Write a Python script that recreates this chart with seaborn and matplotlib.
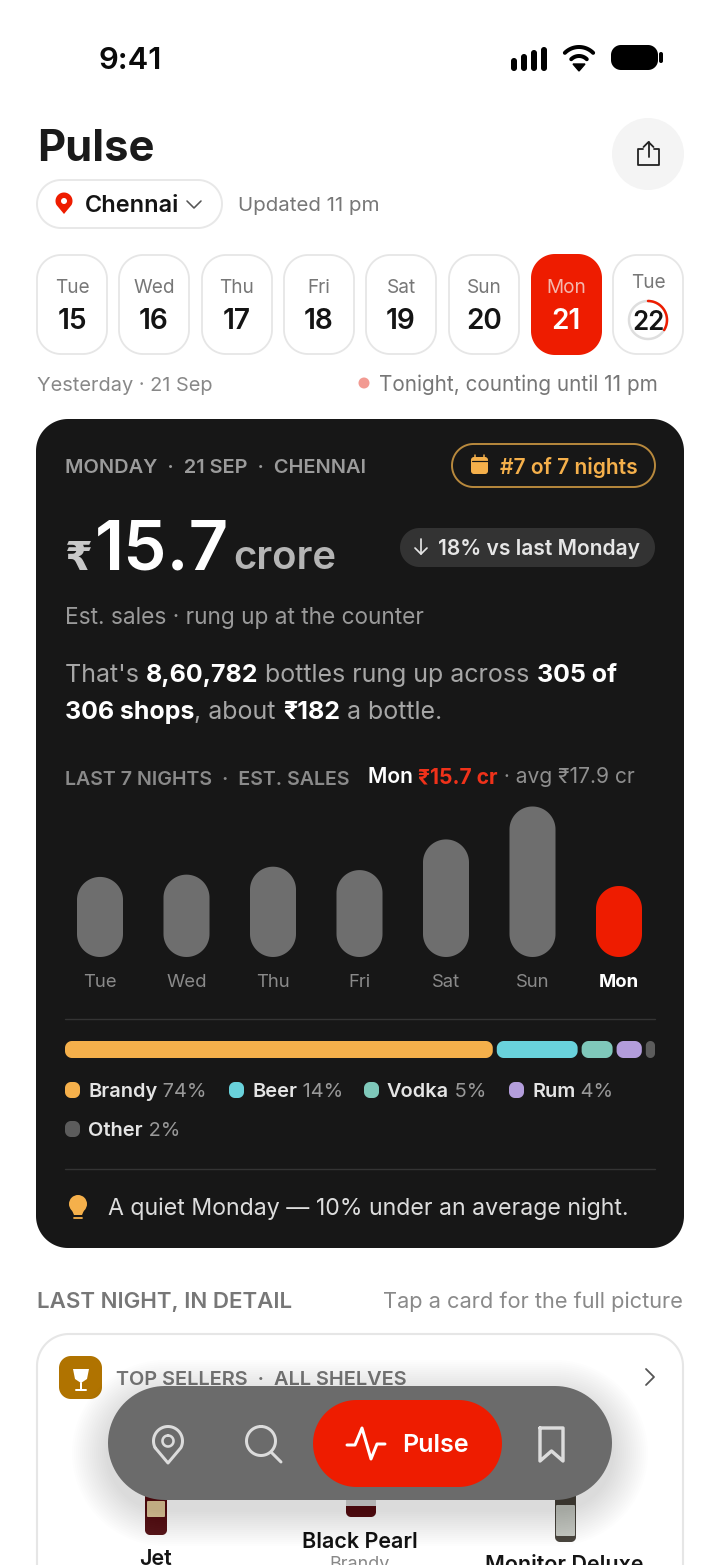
"""Pulse nightly sales screen, drawn in pixel coordinates with seaborn bars."""

import matplotlib

matplotlib.use("Agg")
import matplotlib.pyplot as plt
import numpy as np
import pandas as pd
import seaborn as sns
from matplotlib.patches import Circle, Polygon

W, H = 720, 1565
RED = "#EE1C00"
INK = "#161616"
CARD = "#171717"
AMBER = "#F5B04B"

NIGHT_DAYS = ["Tue", "Wed", "Thu", "Fri", "Sat", "Sun", "Mon"]
NIGHT_SALES_CR = [16.5, 16.7, 17.4, 17.1, 19.8, 22.7, 15.7]

CAL_DAYS = ["Tue", "Wed", "Thu", "Fri", "Sat", "Sun", "Mon", "Tue"]
CAL_DATES = ["15", "16", "17", "18", "19", "20", "21", "22"]

SHARE_NAMES = ["Brandy", "Beer", "Vodka", "Rum", "Other"]
SHARE_LABELS = ["74%", "14%", "5%", "4%", "2%"]
SHARE_VALUES = [74.6, 14.1, 5.4, 4.4, 1.6]
SHARE_COLORS = ["#F5B04B", "#69D2DC", "#7FC8BA", "#B39DDB", "#5C5C5C"]

sns.set_theme(style="white")
plt.rcParams["font.family"] = ["Inter", "DejaVu Sans"]

fig = plt.figure(figsize=(W / 100, H / 100), dpi=100, facecolor="white")
ui = fig.add_axes([0, 0, 1, 1], zorder=1)
ui.set_xlim(0, W)
ui.set_ylim(H, 0)
ui.axis("off")
renderer = fig.canvas.get_renderer()


def text(x, y, s, px, color=INK, weight="normal", ha="left", z=5, family=None):
    kw = {"family": family} if family else {}
    return ui.text(x, y, s, fontsize=px * 0.72, color=color, fontweight=weight,
                   ha=ha, va="baseline", zorder=z, **kw)


def advance(s, px, weight):
    probe = ui.text(0, 0, s + "|", fontsize=px * 0.72, fontweight=weight)
    bar = ui.text(0, 0, "|", fontsize=px * 0.72, fontweight=weight)
    width = probe.get_window_extent(renderer).width - bar.get_window_extent(renderer).width
    probe.remove()
    bar.remove()
    return width


def runs(x, y, parts, px, z=5):
    for s, color, weight in parts:
        text(x, y, s, px, color, weight, z=z)
        x += advance(s, px, weight)


def pill(x0, y0, x1, y1, r=None, fc="white", ec="none", lw=0, z=2, alpha=None):
    # circular corners, FancyBboxPatch's bezier ones come out too square
    r = min(r if r is not None else 1e9, (x1 - x0) / 2, (y1 - y0) / 2)
    pts = []
    corners = [(x1 - r, y0 + r, 0), (x1 - r, y1 - r, 90), (x0 + r, y1 - r, 180), (x0 + r, y0 + r, 270)]
    for cx, cy, start in corners:
        a = np.radians(np.linspace(start, start + 90, 24))
        pts.append(np.c_[cx + r * np.sin(a), cy - r * np.cos(a)])
    ui.add_patch(Polygon(np.vstack(pts), closed=True, fc=fc, ec=ec, lw=lw, zorder=z, alpha=alpha))


def line(xs, ys, color, px=2, z=6):
    ui.plot(xs, ys, color=color, lw=px * 0.72, solid_capstyle="round",
            solid_joinstyle="round", zorder=z)


def arc(cx, cy, r, a0, a1, color, px=2, z=6):
    a = np.radians(np.linspace(a0, a1, 60))
    line(cx + r * np.sin(a), cy - r * np.cos(a), color, px, z)


def pin_outline(cx, cy, r, tip):
    a = np.radians(np.linspace(-118, 118, 50))
    xs = np.r_[cx + r * np.sin(a), cx]
    ys = np.r_[cy - r * np.cos(a), cy + tip]
    return np.c_[xs, ys]


def bars_to_pills(ax, colors, radius=None, z=4):
    # bars start from zero below the visible scale, so cut them at the axes floor
    floor = ax.get_window_extent(renderer).y0
    for patch, color in zip(list(ax.patches), colors):
        box = patch.get_window_extent(renderer)
        pill(box.x0, H - box.y1, box.x1, H - max(box.y0, floor), radius, fc=color, z=z)
        patch.set_visible(False)


# status bar
text(99, 69, "9:41", 31, "#0A0A0A", "semibold")
for i, top in enumerate([58, 54, 50, 47]):
    pill(511 + i * 10, top, 517 + i * 10, 71, 3, fc="#000000", z=6)
for r in [11, 20]:
    arc(579, 67, r, -45, 45, "#000000", 4)
ui.add_patch(Polygon([(573, 64), (585, 64), (579, 71)], fc="#000000", ec="#000000", lw=1, zorder=6))
pill(611, 45, 658, 70, 10, fc="#000000", z=6)
pill(659, 52, 663, 63, 2, fc="#000000", z=6)

# header
text(37, 161, "Pulse", 43.5, "#1A1A1A", "bold")
ui.add_patch(Circle((648, 154), 36, fc="#F4F4F4", ec="none", zorder=2))
line([643, 638, 638, 659, 659, 654], [149, 149, 165, 165, 149, 149], "#222222", 1.8)
line([648.5, 648.5], [157, 142], "#222222", 1.8)
line([643.5, 648.5, 653.5], [147, 142, 147], "#222222", 1.8)

pill(37, 180, 222, 228, fc="white", ec="#E8E8E8", lw=1.4)
ui.add_patch(Polygon(pin_outline(64, 201, 8.5, 13), fc=RED, ec="none", zorder=6))
ui.add_patch(Circle((64, 201), 3, fc="white", ec="none", zorder=7))
text(85, 212, "Chennai", 23.5, "#141414", "semibold")
line([187, 194, 201], [201, 208, 201], "#555555", 1.6)
text(238, 211, "Updated 11 pm", 20.5, "#777777")

# date strip
for i, (day, date, x0) in enumerate(zip(CAL_DAYS, CAL_DATES, [37, 119, 202, 284, 366, 449, 531, 613])):
    selected = day == "Mon"
    if selected:
        pill(x0, 254, x0 + 71, 355, 24, fc=RED)
    else:
        pill(x0, 255, x0 + 70, 354, 24, fc="white", ec="#E6E6E6", lw=1.3)
    cx = x0 + 35
    if i == 7:
        text(cx, 288, day, 19, "#777777", ha="center")
        arc(cx, 320, 19, 0, 360, "#DEDEDE", 2.5)
        arc(cx, 320, 19, 0, 122, RED, 2.5, z=7)
        text(cx, 330, date, 26, "#141414", "semibold", ha="center")
    else:
        text(cx, 293, day, 19, "#F3B7AE" if selected else "#777777", ha="center")
        text(cx, 329, date, 28, "white" if selected else "#141414", "semibold", ha="center")

text(37, 391, "Yesterday · 21 Sep", 20, "#888888")
ui.add_patch(Circle((364, 383), 5.5, fc="#F29A92", ec="none", zorder=5))
text(379, 391, "Tonight, counting until 11 pm", 20.7, "#777777")

# dark summary card
pill(36, 419, 684, 1248, 32, fc=CARD, z=1)
text(65, 473, "MONDAY  ·  21 SEP  ·  CHENNAI", 20, "#9B9B9B", "semibold")
pill(452, 444, 655, 487, fc="none", ec="#B8893D", lw=1.4)
pill(471, 457, 488, 474, 3, fc=AMBER, z=5)
line([471.5, 487.5], [461, 461], CARD, 1.2)
line([475, 475], [455, 458], AMBER, 1.5)
line([484, 484], [455, 458], AMBER, 1.5)
text(500, 474, "#7 of 7 nights", 21, AMBER, "semibold")

text(65, 570, "₹", 40, "#C9C9C9", "bold", family="DejaVu Sans")
text(95, 569, "15.7", 69, "white", "semibold")
text(233, 569, "crore", 40, "#B5B5B5", "semibold")
pill(400, 528, 655, 567, fc="#333333")
line([421, 421], [539, 554], "#E6E6E6", 1.7)
line([415, 421, 427], [548, 554, 548], "#E6E6E6", 1.7)
text(438, 555, "18% vs last Monday", 21, "#E6E6E6", "semibold")

text(65, 624, "Est. sales · rung up at the counter", 22.7, "#9A9A9A")
GREY_COPY = "#A6A6A6"
runs(65, 682, [("That's ", GREY_COPY, "normal"), ("8,60,782", "white", "bold"),
               (" bottles rung up across ", GREY_COPY, "normal"), ("305 of", "white", "bold")], 25)
runs(65, 719, [("306 shops", "white", "bold"), (", about ", GREY_COPY, "normal"),
               ("₹182", "white", "bold"), (" a bottle.", GREY_COPY, "normal")], 25)

text(65, 785, "LAST 7 NIGHTS  ·  EST. SALES", 19.6, "#8A8A8A", "semibold")
runs(368, 783, [("Mon ", "white", "semibold"), ("₹15.7 cr", "#F0321A", "bold"),
                (" · avg ₹17.9 cr", "#8F8F8F", "normal")], 21)

# nightly bars: axes span set so one category is 86.5 px, floor of the scale at y=957
bar_ax = fig.add_axes([56.75 / W, 1 - 957 / H, 605.5 / W, 157 / H], zorder=2)
bar_ax.patch.set_alpha(0)
nights = pd.DataFrame({"day": NIGHT_DAYS, "sales": NIGHT_SALES_CR})
bar_colors = ["#6E6E6E"] * 6 + [RED]
sns.barplot(data=nights, x="day", y="sales", hue="day", palette=bar_colors, legend=False,
            width=0.532, saturation=1, ax=bar_ax)
bar_ax.set_xlim(-0.5, 6.5)
bar_ax.set_ylim(9.45, 23.27)
bar_ax.set(xlabel="", ylabel="", yticks=[])
sns.despine(ax=bar_ax, left=True, bottom=True)
bar_ax.tick_params(axis="x", length=0, pad=12, labelsize=18.5 * 0.72, labelcolor="#8A8A8A")
bar_ax.get_xticklabels()[-1].set_color("white")
bar_ax.get_xticklabels()[-1].set_fontweight("bold")
bars_to_pills(bar_ax, bar_colors)

line([65, 655], [1018.5, 1018.5], "#343434", 1.4, z=3)
line([65, 655], [1168.5, 1168.5], "#343434", 1.4, z=3)

# category share strip
share_ax = fig.add_axes([65 / W, 1 - 1058 / H, 590 / W, 17 / H], zorder=2)
share_ax.axis("off")
left = 0.0
gap = 100 * 4 / 590
scale = (100 - 4 * gap) / sum(SHARE_VALUES)
for value, color in zip(SHARE_VALUES, SHARE_COLORS):
    share_ax.barh(0, value * scale, left=left, height=1, color=color)
    left += value * scale + gap
share_ax.set_xlim(0, 100)
share_ax.set_ylim(-0.5, 0.5)
bars_to_pills(share_ax, SHARE_COLORS, radius=7)

legend_at = [(65, 1090), (229, 1090), (364, 1090), (509, 1090), (65, 1129)]
for name, label, color, (lx, ly) in zip(SHARE_NAMES, SHARE_LABELS, SHARE_COLORS, legend_at):
    pill(lx, ly - 8, lx + 15, ly + 8, 6, fc=color, z=4)
    runs(lx + 23, ly + 7, [(name, "#E4E4E4", "semibold"), (" " + label, "#999999", "normal")], 20)

ui.add_patch(Circle((78, 1204), 9, fc=AMBER, ec="none", zorder=5))
ui.add_patch(Polygon([(71, 1208), (85, 1208), (82, 1215), (74, 1215)], fc=AMBER, ec="none", zorder=5))
line([74, 82], [1218, 1218], AMBER, 1.8)
text(108, 1215, "A quiet Monday — 10% under an average night.", 23.1, "#DDDDDD")

# lower section
text(37, 1308, "LAST NIGHT, IN DETAIL", 22.3, "#777777", "semibold")
text(683, 1308, "Tap a card for the full picture", 21.8, "#8A8A8A", ha="right")
pill(37, 1334, 683, 1640, 32, fc="white", ec="#E6E6E6", lw=1.5)
pill(59, 1356, 102, 1399, 12, fc="#B07300", z=3)
ui.add_patch(Polygon([(73, 1369), (89, 1369), (87, 1379), (81, 1383), (75, 1379)], fc="white", ec="none", zorder=4))
line([81, 81], [1383, 1389], "white", 2, z=4)
line([76, 86], [1390, 1390], "white", 2, z=4)
text(116, 1385, "TOP SELLERS  ·  ALL SHELVES", 19.9, "#777777", "semibold", z=3)
line([646, 654, 646], [1369, 1377, 1385], "#555555", 1.8, z=3)

# bottles peeking from behind the nav
pill(145, 1480, 167, 1535, 5, fc="#5A1A1E", z=2)
pill(147, 1501, 165, 1517, 1, fc="#E4CFA6", z=2)
pill(346, 1480, 376, 1517, 5, fc="#5A1A1E", z=2)
pill(346, 1500, 376, 1506, 0, fc="#D8D8D8", z=2)
pill(555, 1480, 576, 1542, 5, fc="#4B4740", z=2)
pill(556, 1505, 575, 1536, 1, fc="#C9CCC6", z=2)
text(155, 1565, "Jet", 21.5, "#141414", "semibold", ha="center", z=3)
text(360, 1548, "Black Pearl", 21.5, "#141414", "semibold", ha="center", z=3)
text(360, 1569, "Brandy", 18, "#888888", ha="center", z=3)
text(564, 1571, "Monitor Deluxe", 21.5, "#141414", "semibold", ha="center", z=3)

# floating nav with soft shadow
for spread in range(2, 38, 2):
    pill(108 - spread, 1386 - spread + 10, 612 + spread, 1500 + spread + 10, fc="black", z=7, alpha=0.006)
pill(108, 1386, 612, 1500, fc="#6B6B6B", z=8)
pill(313, 1400, 502, 1487, fc=RED, z=9)
NAV = "#DCDCDC"
nav_pin = pin_outline(168, 1441, 14.5, 22)
line(np.r_[nav_pin[:, 0], nav_pin[0, 0]], np.r_[nav_pin[:, 1], nav_pin[0, 1]], NAV, 3, z=10)
arc(168, 1441, 5.5, 0, 360, NAV, 2.6, z=10)
arc(261, 1441, 14.5, 0, 360, NAV, 3, z=10)
line([271, 281], [1452, 1462], NAV, 3, z=10)
line([347, 355, 362, 371, 377, 385], [1445, 1445, 1428, 1459, 1444, 1444], "white", 3, z=10)
text(402, 1452, "Pulse", 25, "white", "semibold", z=10)
line([540, 563, 563, 551.5, 540, 540], [1428, 1428, 1461, 1451, 1461, 1428], NAV, 3.4, z=10)

fig.savefig("out.png", dpi=100, facecolor="white")
